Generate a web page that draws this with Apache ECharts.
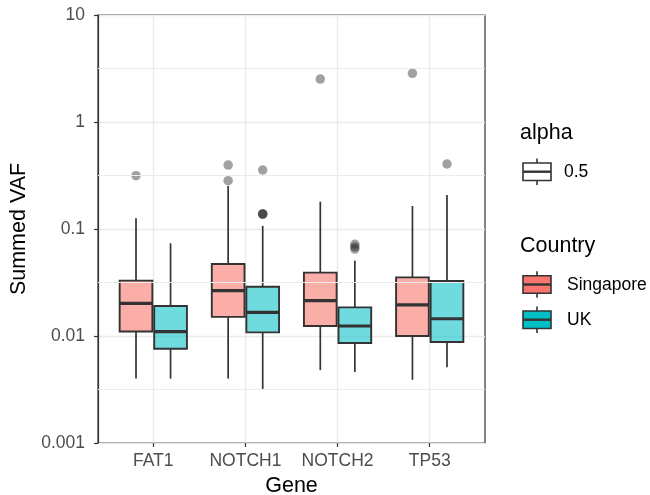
<!DOCTYPE html>
<html>
<head>
<meta charset="utf-8">
<script src="https://cdn.jsdelivr.net/npm/echarts@6/dist/echarts.min.js"></script>
<style>
  html, body { margin: 0; padding: 0; background: #fff; }
  #chart { width: 650px; height: 495px; }
</style>
</head>
<body>
<div id="chart"></div>
<script>
var chart = echarts.init(document.getElementById('chart'));

// genes on the x axis (positions 1..4)
var genes = ['FAT1', 'NOTCH1', 'NOTCH2', 'TP53'];
// box stats per gene: [lower whisker, Q1, median, Q3, upper whisker]
var singaporeStats = [
  [0.0040, 0.0110, 0.0202, 0.0329, 0.126],
  [0.0040, 0.0151, 0.0265, 0.0471, 0.252],
  [0.0048, 0.0124, 0.0214, 0.0391, 0.180],
  [0.0039, 0.0100, 0.0195, 0.0353, 0.164]
];
var ukStats = [
  [0.0040, 0.0076, 0.0110, 0.0191, 0.0735],
  [0.0032, 0.0108, 0.0166, 0.0289, 0.107],
  [0.0046, 0.0086, 0.0124, 0.0185, 0.0506],
  [0.0051, 0.0088, 0.0145, 0.0327, 0.208]
];
// outliers per gene
var singaporeOutliers = [[0.315], [0.396, 0.283], [2.52], [2.85]];
var ukOutliers = [[], [0.356, 0.137, 0.138, 0.139], [0.072, 0.068, 0.065], [0.405]];
// y axis minor grid (half decades)
var yMinorBreaks = [0.00316, 0.0316, 0.316, 3.16];

var dodge = 0.1875;
var boxW = 0.355;
var lineColor = '#333333';

function boxData(stats) {
  return stats.map(function (s, i) { return [i + 1].concat(s); });
}
function outlierData(list, off) {
  var out = [];
  list.forEach(function (vals, i) {
    vals.forEach(function (v) { out.push([i + 1 + off, v]); });
  });
  return out;
}

function boxRenderer(off, fill) {
  return function (params, api) {
    var x = api.value(0) + off;
    var lo = api.coord([x, api.value(1)]);
    var q1 = api.coord([x, api.value(2)]);
    var md = api.coord([x, api.value(3)]);
    var q3 = api.coord([x, api.value(4)]);
    var hi = api.coord([x, api.value(5)]);
    var hw = api.size([boxW, 0])[0] / 2;
    var cx = lo[0];
    return {
      type: 'group',
      children: [
        { type: 'line', shape: { x1: cx, y1: hi[1], x2: cx, y2: q3[1] }, style: { stroke: lineColor, lineWidth: 1.7 } },
        { type: 'line', shape: { x1: cx, y1: q1[1], x2: cx, y2: lo[1] }, style: { stroke: lineColor, lineWidth: 1.7 } },
        { type: 'rect', shape: { x: cx - hw, y: q3[1], width: hw * 2, height: q1[1] - q3[1] },
          style: { fill: fill, stroke: lineColor, lineWidth: 1.9 } },
        { type: 'line', shape: { x1: cx - hw, y1: md[1], x2: cx + hw, y2: md[1] }, style: { stroke: lineColor, lineWidth: 3.2 } }
      ]
    };
  };
}

var font = 'Liberation Sans, Arial, sans-serif';
var keyX = 523, keyW = 28, keyH = 17.5, whisk = 4.5;
function legendKey(cy, fill) {
  return [
    { type: 'line', shape: { x1: keyX + keyW / 2, y1: cy - keyH / 2 - whisk, x2: keyX + keyW / 2, y2: cy + keyH / 2 + whisk }, style: { stroke: lineColor, lineWidth: 1.6 } },
    { type: 'rect', shape: { x: keyX, y: cy - keyH / 2, width: keyW, height: keyH }, style: { fill: fill, stroke: lineColor, lineWidth: 1.6 } },
    { type: 'line', shape: { x1: keyX, y1: cy, x2: keyX + keyW, y2: cy }, style: { stroke: lineColor, lineWidth: 2.4 } }
  ];
}
function legendText(x, y, txt, size) {
  return { type: 'text', x: x, y: y, style: { text: txt, fontSize: size, fontFamily: font, fill: '#000', verticalAlign: 'middle', align: 'left' } };
}

var option = {
  animation: false,
  grid: { left: 98, right: 165, top: 15, bottom: 52, outerBoundsMode: 'none', containLabel: false,
    show: true, borderColor: '#333', borderWidth: 1.2, backgroundColor: '#fff' },
  xAxis: {
    type: 'value', min: 0.4, max: 4.6,
    name: 'Gene', nameLocation: 'middle', nameGap: 31,
    nameTextStyle: { fontSize: 21.5, fontFamily: font, color: '#000' },
    axisLine: { show: false },
    axisTick: { show: true, length: 4, customValues: [1, 2, 3, 4], lineStyle: { color: '#333', width: 1.2 } },
    axisLabel: { customValues: [1, 2, 3, 4], margin: 9, fontSize: 17.5, fontFamily: font, color: '#4d4d4d',
      formatter: function (v) { return genes[Math.round(v) - 1] || ''; } },
    splitLine: { show: true, lineStyle: { color: '#ebebeb', width: 1.4 } }
  },
  yAxis: {
    type: 'log', logBase: 10, min: 0.001, max: 10,
    name: 'Summed VAF', nameLocation: 'middle', nameGap: 65,
    nameTextStyle: { fontSize: 21.5, fontFamily: font, color: '#000' },
    axisLine: { show: true, lineStyle: { color: '#333', width: 1.2 } },
    axisTick: { show: true, length: 4, lineStyle: { color: '#333', width: 1.2 } },
    axisLabel: { margin: 13, fontSize: 17.5, fontFamily: font, color: '#4d4d4d',
      formatter: function (v) { return String(parseFloat(v.toPrecision(3))); } },
    splitLine: { show: true, lineStyle: { color: '#ebebeb', width: 1.4 } }
  },
  series: [
    {
      name: 'minor', type: 'scatter', data: [], silent: true, z: 1,
      markLine: {
        silent: true, symbol: 'none', label: { show: false }, animation: false,
        lineStyle: { color: '#ebebeb', width: 1, type: 'solid', opacity: 1 },
        emphasis: { disabled: true },
        data: yMinorBreaks.map(function (v) { return [{ coord: [0.4, v] }, { coord: [4.6, v] }]; })
      }
    },
    { name: 'Singapore', type: 'custom', renderItem: boxRenderer(-dodge, 'rgba(248,118,109,0.6)'), data: boxData(singaporeStats), encode: { x: 0, y: [1, 2, 3, 4, 5] }, z: 3 },
    { name: 'UK', type: 'custom', renderItem: boxRenderer(dodge, 'rgba(0,191,196,0.56)'), data: boxData(ukStats), encode: { x: 0, y: [1, 2, 3, 4, 5] }, z: 3 },
    { name: 'Singapore outliers', type: 'scatter', data: outlierData(singaporeOutliers, -dodge), symbolSize: 9.5, itemStyle: { color: 'rgba(30,30,30,0.52)' }, z: 4 },
    { name: 'UK outliers', type: 'scatter', data: outlierData(ukOutliers, dodge), symbolSize: 9.5, itemStyle: { color: 'rgba(30,30,30,0.52)' }, z: 4 }
  ],
  graphic: [].concat(
    [legendText(520, 133, 'alpha', 21.5)],
    legendKey(171.7, '#ffffff'),
    [legendText(564, 172, '0.5', 17.5)],
    [legendText(520, 246, 'Country', 21.5)],
    legendKey(284.5, '#F8766D'),
    [legendText(567, 285, 'Singapore', 17.5)],
    legendKey(319.7, '#00BFC4'),
    [legendText(567, 320, 'UK', 17.5)]
  )
};

chart.setOption(option);
</script>
</body>
</html>
